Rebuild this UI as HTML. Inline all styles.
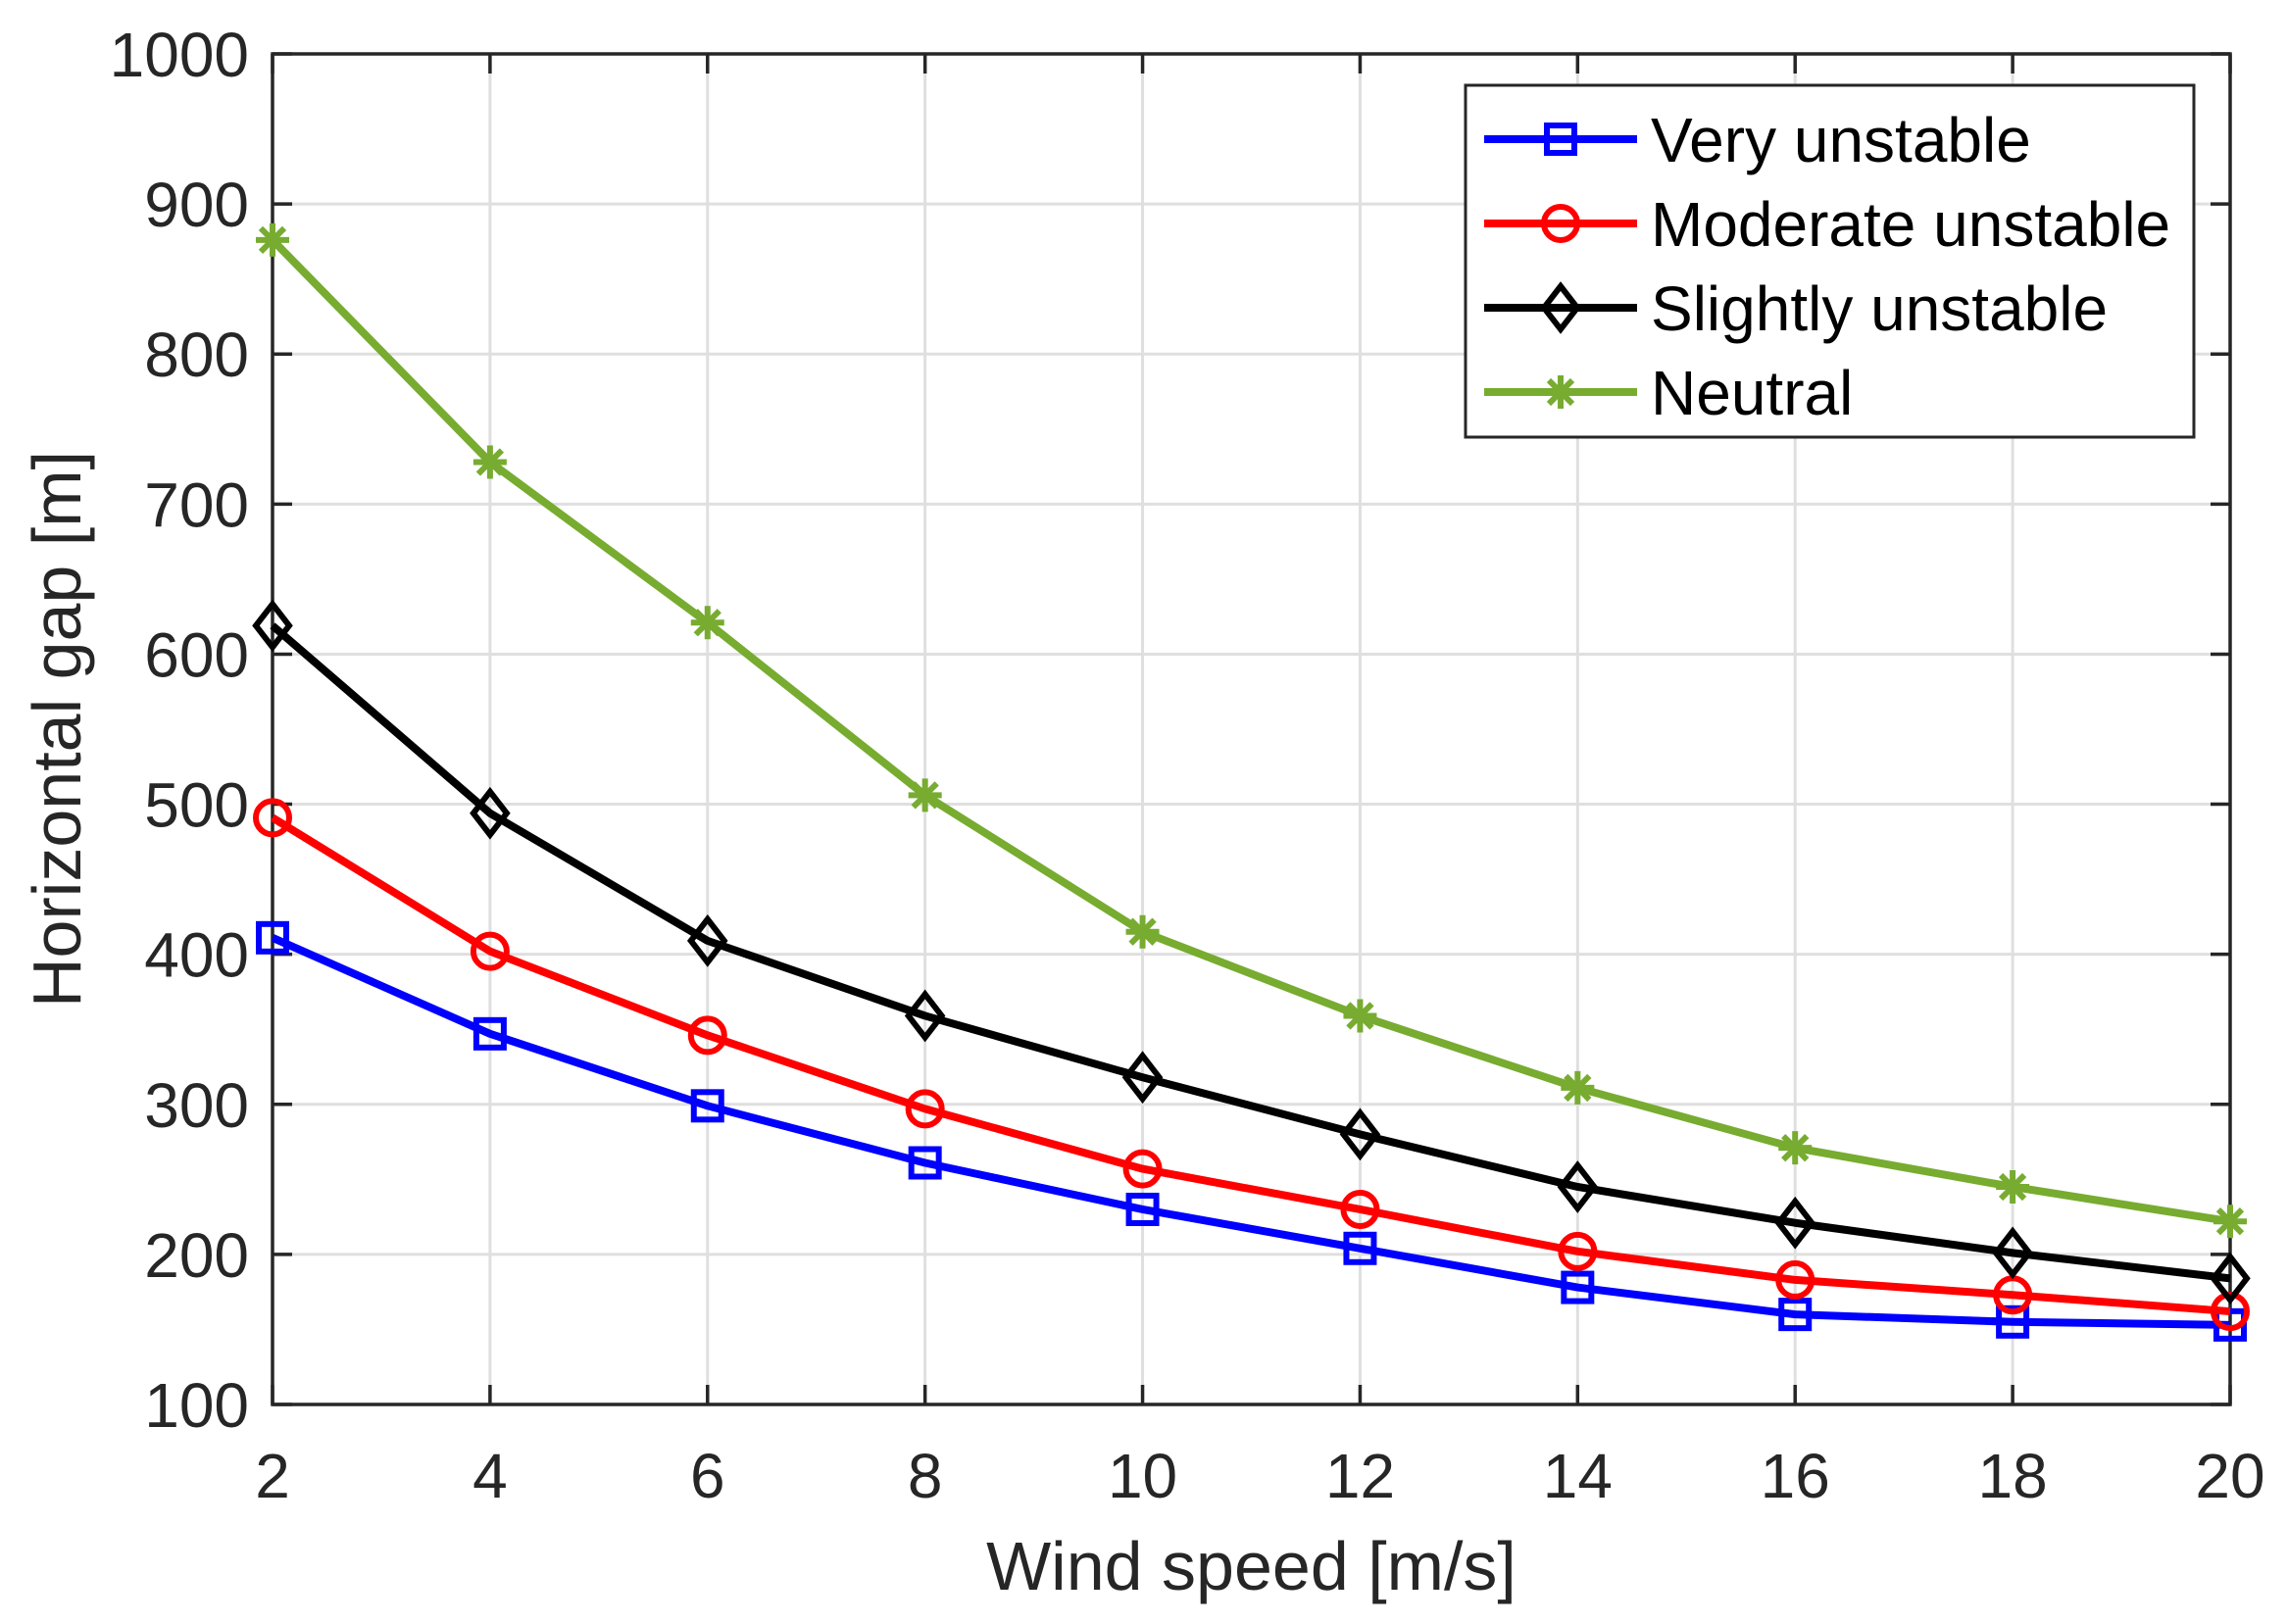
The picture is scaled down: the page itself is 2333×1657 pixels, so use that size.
<!DOCTYPE html>
<html><head><meta charset="utf-8"><style>
html,body{margin:0;padding:0;background:#fff}
svg{display:block;font-family:"Liberation Sans",sans-serif}
</style></head><body>
<svg id="chart" width="2333" height="1657" viewBox="0 0 2333 1657" xmlns="http://www.w3.org/2000/svg"></svg>
<script>
const windSpeeds=[2,4,6,8,10,12,14,16,18,20];
const veryUnstable=[411,347,299,261,230,204,178,160,155,153];
const moderateUnstable=[491,402,346,297,257,230,202,183,173,162];
const slightlyUnstable=[619,494,409,359,318,280,245,221,201,184];
const neutral=[876,728,621,506,415,359,311,271,245,222];
const xTicks=[2,4,6,8,10,12,14,16,18,20];
const yTicks=[100,200,300,400,500,600,700,800,900,1000];
const seriesNames=["Very unstable","Moderate unstable","Slightly unstable","Neutral"];

const L=278,R=2275,T=55,B=1433;
const xs=v=>L+(v-2)/18*(R-L);
const ys=v=>B-(v-100)/900*(B-T);
const svg=document.getElementById('chart');
const NS='http://www.w3.org/2000/svg';
function mk(tag,attrs,parent){const e=document.createElementNS(NS,tag);for(const k in attrs)e.setAttribute(k,attrs[k]);(parent||svg).appendChild(e);return e;}

const grid=mk('g',{});


xTicks.forEach(t=>mk('line',{x1:xs(t),x2:xs(t),y1:T,y2:B,stroke:'#dfdfdf','stroke-width':3},grid));
yTicks.forEach(t=>mk('line',{x1:L,x2:R,y1:ys(t),y2:ys(t),stroke:'#dfdfdf','stroke-width':3},grid));

const ax=mk('g',{stroke:'#262626','stroke-width':3.5,fill:'none'});


mk('rect',{x:L,y:T,width:R-L,height:B-T},ax);
xTicks.forEach(t=>{mk('line',{x1:xs(t),x2:xs(t),y1:B,y2:B-20},ax);mk('line',{x1:xs(t),x2:xs(t),y1:T,y2:T+20},ax);});
yTicks.forEach(t=>{mk('line',{x1:L,x2:L+20,y1:ys(t),y2:ys(t)},ax);mk('line',{x1:R,x2:R-20,y1:ys(t),y2:ys(t)},ax);});

xTicks.forEach(t=>{const e=mk('text',{x:xs(t),y:1528,'text-anchor':'middle','font-size':64,fill:'#262626'});e.textContent=t;

});
yTicks.forEach(t=>{const e=mk('text',{x:L-24,y:ys(t)+23,'text-anchor':'end','font-size':64,fill:'#262626'});e.textContent=t;

});

const xl=mk('text',{x:(L+R)/2,y:1622,'text-anchor':'middle','font-size':70,fill:'#262626'});xl.textContent='Wind speed [m/s]';


const yl=mk('text',{x:0,y:0,'text-anchor':'middle','font-size':70,fill:'#262626',transform:`translate(82,${(T+B)/2}) rotate(-90)`});yl.textContent='Horizontal gap [m]';



function marker(type,x,y,color,parent){
  const s=17;
  if(type==='square')return mk('rect',{x:x-s+3,y:y-s+3,width:2*s-6,height:2*s-6,fill:'none',stroke:color,'stroke-width':6},parent);
  if(type==='circle')return mk('circle',{cx:x,cy:y,r:s,fill:'none',stroke:color,'stroke-width':6},parent);
  if(type==='diamond')return mk('polygon',{points:`${x},${y-s-5} ${x+s},${y} ${x},${y+s+5} ${x-s},${y}`,fill:'none',stroke:color,'stroke-width':6},parent);
  const g=mk('g',{stroke:color,'stroke-width':6},parent);
  for(let a=0;a<180;a+=45){const r=a*Math.PI/180;mk('line',{x1:x-s*Math.cos(r),y1:y-s*Math.sin(r),x2:x+s*Math.cos(r),y2:y+s*Math.sin(r)},g);}
  return g;
}
const series=[[veryUnstable,'#0000ff','square','series-very-unstable'],[moderateUnstable,'#ff0000','circle','series-moderate-unstable'],[slightlyUnstable,'#000000','diamond','series-slightly-unstable'],[neutral,'#77ac30','star','series-neutral']];
series.forEach(([vals,color,m,name])=>{
  const g=mk('g',{});
  
  
  mk('polyline',{points:vals.map((v,i)=>xs(windSpeeds[i])+','+ys(v)).join(' '),fill:'none',stroke:color,'stroke-width':8,'stroke-linejoin':'round'},g);
  vals.forEach((v,i)=>{const p=marker(m,xs(windSpeeds[i]),ys(v),color,g);
    
    });
});

const lg=mk('g',{});


mk('rect',{x:1495,y:87,width:743,height:359,fill:'#fff',stroke:'#262626','stroke-width':3},lg);
const ly=[142,228,314,400];
series.forEach(([vals,color,m,name],i)=>{
  const e=mk('g',{},lg);
  
  
  mk('line',{x1:1514,x2:1670,y1:ly[i],y2:ly[i],stroke:color,'stroke-width':8},e);
  marker(m,1592,ly[i],color,e);
  const t=mk('text',{x:1684,y:ly[i]+23,'font-size':64,fill:'#000'},e);t.textContent=seriesNames[i];
});
</script>
</body></html>
